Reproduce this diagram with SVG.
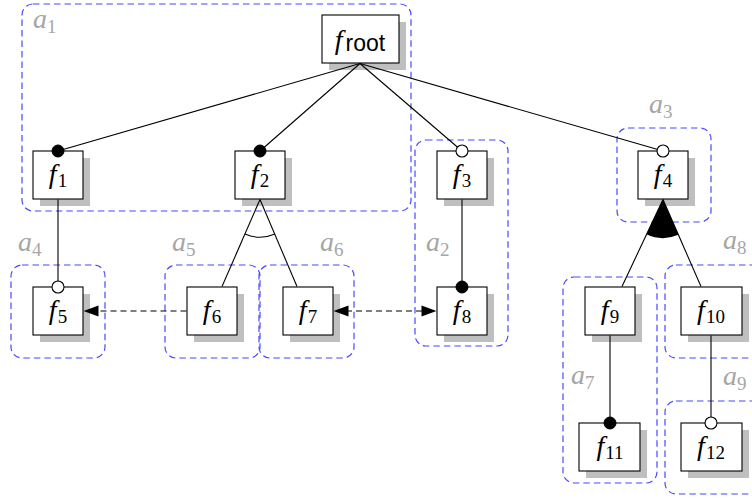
<svg xmlns="http://www.w3.org/2000/svg" width="752" height="498" viewBox="0 0 752 498">
<style>
.grp{fill:none;stroke:#4848ff;stroke-width:1.2;stroke-dasharray:6.5 4}
.lbl{font-family:"Liberation Serif",serif;font-size:28px;fill:#a6a6a6}
.lbl .i{font-style:italic}
.lbl .s{font-size:19px}
.sh{fill:#bfbfbf}
.bx{fill:#fff;stroke:#000;stroke-width:1.1}
.t{font-family:"Liberation Serif",serif;font-size:28px;fill:#000;text-anchor:middle}
.t .i{font-style:italic}
.t .s{font-size:19px}
.t .sf{font-family:"Liberation Sans",sans-serif;font-size:23px}
.ln{stroke:#000;stroke-width:1.1;fill:none}
.dl{stroke:#000;stroke-width:1.1;fill:none;stroke-dasharray:6 4}
.ah{fill:#000}
.fd{fill:#000;stroke:#000;stroke-width:1}
.od{fill:#fff;stroke:#000;stroke-width:1.1}
</style>
<g id="groups">
<rect class="grp" x="22" y="4" width="389" height="207" rx="11"/>
<rect class="grp" x="415" y="140" width="93" height="206" rx="11"/>
<rect class="grp" x="617" y="128" width="94" height="94" rx="11"/>
<rect class="grp" x="11" y="265" width="94" height="93" rx="11"/>
<rect class="grp" x="165" y="265" width="95" height="93" rx="11"/>
<rect class="grp" x="259" y="265" width="95" height="93" rx="11"/>
<rect class="grp" x="563" y="277" width="94" height="206" rx="11"/>
<rect class="grp" x="665" y="265" width="100" height="93" rx="11"/>
<rect class="grp" x="665" y="401" width="100" height="93" rx="11"/>
</g>
<g id="labels">
<text class="lbl" x="33" y="28"><tspan class="i">a</tspan><tspan class="s" dy="5">1</tspan></text>
<text class="lbl" x="426" y="251"><tspan class="i">a</tspan><tspan class="s" dy="5">2</tspan></text>
<text class="lbl" x="649" y="113"><tspan class="i">a</tspan><tspan class="s" dy="5">3</tspan></text>
<text class="lbl" x="18" y="251"><tspan class="i">a</tspan><tspan class="s" dy="5">4</tspan></text>
<text class="lbl" x="172" y="251"><tspan class="i">a</tspan><tspan class="s" dy="5">5</tspan></text>
<text class="lbl" x="320" y="251"><tspan class="i">a</tspan><tspan class="s" dy="5">6</tspan></text>
<text class="lbl" x="571" y="384"><tspan class="i">a</tspan><tspan class="s" dy="5">7</tspan></text>
<text class="lbl" x="723" y="249"><tspan class="i">a</tspan><tspan class="s" dy="5">8</tspan></text>
<text class="lbl" x="723" y="385"><tspan class="i">a</tspan><tspan class="s" dy="5">9</tspan></text>
</g>
<g id="froot"><rect class="sh" x="329" y="22" width="77" height="48"/><rect class="bx" x="322" y="15" width="77" height="48"/><text class="t" x="360" y="49"><tspan class="i">f</tspan><tspan class="sf" dx="3" dy="2">root</tspan></text></g>
<g id="f1"><rect class="sh" x="40" y="158" width="50" height="48"/><rect class="bx" x="33" y="151" width="50" height="48"/><text class="t" x="58" y="183"><tspan class="i">f</tspan><tspan class="s" dx="1" dy="4">1</tspan></text></g>
<g id="f2"><rect class="sh" x="242" y="158" width="50" height="48"/><rect class="bx" x="235" y="151" width="50" height="48"/><text class="t" x="260" y="183"><tspan class="i">f</tspan><tspan class="s" dx="1" dy="4">2</tspan></text></g>
<g id="f3"><rect class="sh" x="444" y="158" width="50" height="48"/><rect class="bx" x="437" y="151" width="50" height="48"/><text class="t" x="462" y="183"><tspan class="i">f</tspan><tspan class="s" dx="1" dy="4">3</tspan></text></g>
<g id="f4"><rect class="sh" x="645" y="158" width="50" height="48"/><rect class="bx" x="638" y="151" width="50" height="48"/><text class="t" x="663" y="183"><tspan class="i">f</tspan><tspan class="s" dx="1" dy="4">4</tspan></text></g>
<g id="f5"><rect class="sh" x="40" y="294" width="50" height="48"/><rect class="bx" x="33" y="287" width="50" height="48"/><text class="t" x="58" y="319"><tspan class="i">f</tspan><tspan class="s" dx="1" dy="4">5</tspan></text></g>
<g id="f6"><rect class="sh" x="194" y="294" width="50" height="48"/><rect class="bx" x="187" y="287" width="50" height="48"/><text class="t" x="212" y="319"><tspan class="i">f</tspan><tspan class="s" dx="1" dy="4">6</tspan></text></g>
<g id="f7"><rect class="sh" x="290" y="294" width="50" height="48"/><rect class="bx" x="283" y="287" width="50" height="48"/><text class="t" x="308" y="319"><tspan class="i">f</tspan><tspan class="s" dx="1" dy="4">7</tspan></text></g>
<g id="f8"><rect class="sh" x="444" y="294" width="50" height="48"/><rect class="bx" x="437" y="287" width="50" height="48"/><text class="t" x="462" y="319"><tspan class="i">f</tspan><tspan class="s" dx="1" dy="4">8</tspan></text></g>
<g id="f9"><rect class="sh" x="592" y="294" width="50" height="48"/><rect class="bx" x="585" y="287" width="50" height="48"/><text class="t" x="610" y="319"><tspan class="i">f</tspan><tspan class="s" dx="1" dy="4">9</tspan></text></g>
<g id="f10"><rect class="sh" x="688" y="294" width="61" height="48"/><rect class="bx" x="681" y="287" width="61" height="48"/><text class="t" x="711" y="319"><tspan class="i">f</tspan><tspan class="s" dx="1" dy="4">10</tspan></text></g>
<g id="f11"><rect class="sh" x="586" y="430" width="61" height="48"/><rect class="bx" x="579" y="423" width="61" height="48"/><text class="t" x="610" y="455"><tspan class="i">f</tspan><tspan class="s" dx="1" dy="4">11</tspan></text></g>
<g id="f12"><rect class="sh" x="688" y="430" width="61" height="48"/><rect class="bx" x="681" y="423" width="61" height="48"/><text class="t" x="711" y="455"><tspan class="i">f</tspan><tspan class="s" dx="1" dy="4">12</tspan></text></g>
<g id="connectors">
<line class="ln" x1="360" y1="63.5" x2="58" y2="151"/>
<line class="ln" x1="360" y1="63.5" x2="260" y2="151"/>
<line class="ln" x1="360" y1="63.5" x2="462" y2="151"/>
<line class="ln" x1="360" y1="63.5" x2="663" y2="151"/>
<line class="ln" x1="58" y1="199.5" x2="58" y2="287"/>
<line class="ln" x1="462" y1="199.5" x2="462" y2="287"/>
<line class="ln" x1="610" y1="335.5" x2="610" y2="423"/>
<line class="ln" x1="711" y1="335.5" x2="711" y2="423"/>
<line class="ln" x1="260" y1="199.5" x2="222" y2="286.5"/>
<line class="ln" x1="260" y1="199.5" x2="297" y2="286.5"/>
<path class="ln" d="M245,234 A38,38 0 0 0 275,234"/>
<line class="ln" x1="663" y1="199.5" x2="622" y2="286.5"/>
<line class="ln" x1="663" y1="199.5" x2="701" y2="286.5"/>
<path d="M663,199.5 L646.4,234.3 A39,39 0 0 0 678.4,234.8 Z" fill="#000"/>
<line class="dl" x1="186.5" y1="311" x2="96" y2="311"/>
<polygon class="ah" points="83.5,311 98.5,305.5 98.5,316.5"/>
<line class="dl" x1="346" y1="311" x2="424" y2="311"/>
<polygon class="ah" points="333.5,311 348.5,305.5 348.5,316.5"/>
<polygon class="ah" points="436.5,311 421.5,305.5 421.5,316.5"/>
<circle class="fd" cx="58" cy="151" r="6"/>
<circle class="fd" cx="260" cy="151" r="6"/>
<circle class="od" cx="462" cy="151" r="6"/>
<circle class="od" cx="663" cy="151" r="6"/>
<circle class="od" cx="58" cy="287" r="6"/>
<circle class="fd" cx="462" cy="287" r="6"/>
<circle class="fd" cx="610" cy="423" r="6"/>
<circle class="od" cx="711" cy="423" r="6"/>
</g>
</svg>
